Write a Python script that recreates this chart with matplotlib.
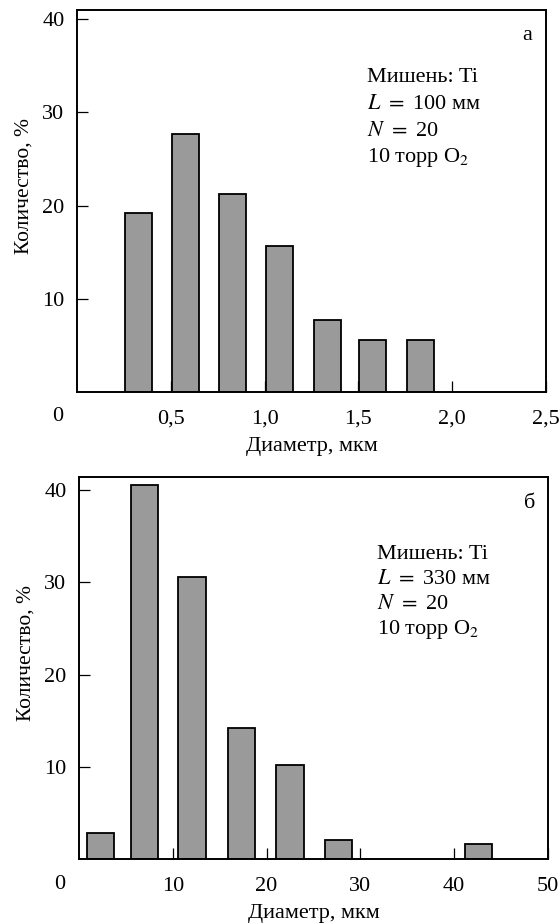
import matplotlib.pyplot as plt

plt.rcParams['font.family'] = ['Liberation Serif', 'DejaVu Serif']
plt.rcParams['mathtext.fontset'] = 'stix'

# panel a: L = 100 mm
diam_a = [0.33, 0.58, 0.83, 1.08, 1.335, 1.575, 1.83]
count_a = [19.2, 27.7, 21.3, 15.7, 7.7, 5.6, 5.6]
xticks_a = [0.5, 1.0, 1.5, 2.0, 2.5]
xlabels_a = ['0,5', '1,0', '1,5', '2,0', '2,5']
info_a = ['Мишень: Ti', '$L$ $=$ 100 мм', '$N$ $=$ 20', '10 торр O$_2$']

# panel b: L = 330 mm
diam_b = [2.3, 7.0, 12.05, 17.35, 22.5, 27.7, 42.6]
count_b = [2.8, 40.5, 30.6, 14.2, 10.2, 2.1, 1.6]
xticks_b = [10, 20, 30, 40, 50]
xlabels_b = ['10', '20', '30', '40', '50']
info_b = ['Мишень: Ti', '$L$ $=$ 330 мм', '$N$ $=$ 20', '10 торр O$_2$']

yticks = [10, 20, 30, 40]

fig = plt.figure(figsize=(5.59, 9.24), dpi=100)
ax_a = fig.add_axes([0.1377, 0.5758, 0.839, 0.4134])
ax_b = fig.add_axes([0.1413, 0.0703, 0.839, 0.4134])


def draw_panel(ax, x, h, width, xmax, ymax, xticks, xlabels, info, tag, tx, ty):
    ax.bar(x, h, width=width, color='#9a9a9a', edgecolor='black', linewidth=1.3)
    ax.set_xlim(0, xmax)
    ax.set_ylim(0, ymax)
    ax.set_xticks(xticks)
    ax.set_xticklabels(xlabels)
    ax.set_yticks(yticks)
    ax.tick_params(direction='in', length=8, width=0.9, labelsize=16)
    ax.tick_params(axis='x', pad=13)
    ax.tick_params(axis='y', pad=9)
    for s in ax.spines.values():
        s.set_linewidth(1.4)
    ax.set_ylabel('Количество, %', fontsize=15.5, labelpad=6, y=0.54)
    ax.set_xlabel('Диаметр, мкм', fontsize=16, labelpad=6)
    # shared origin label in the corner
    ax.annotate('0', xy=(0, 0), xycoords='axes fraction', xytext=(-14, -18),
                textcoords='offset points', ha='center', va='center', fontsize=16)
    ax.text(0.96, ty[0], tag, transform=ax.transAxes, ha='center', va='center',
            fontsize=16)
    for line, yy in zip(info, ty[1:]):
        ax.text(tx, yy, line, transform=ax.transAxes, ha='left', va='center',
                fontsize=16)


draw_panel(ax_a, diam_a, count_a, 0.145, 2.5, 41.0, xticks_a, xlabels_a, info_a,
           'а', 0.618, [0.933, 0.824, 0.753, 0.683, 0.615])
draw_panel(ax_b, diam_b, count_b, 2.9, 50, 41.4, xticks_b, xlabels_b, info_b,
           'б', 0.635, [0.93, 0.797, 0.732, 0.666, 0.601])

fig.savefig('out.png', dpi=100)
